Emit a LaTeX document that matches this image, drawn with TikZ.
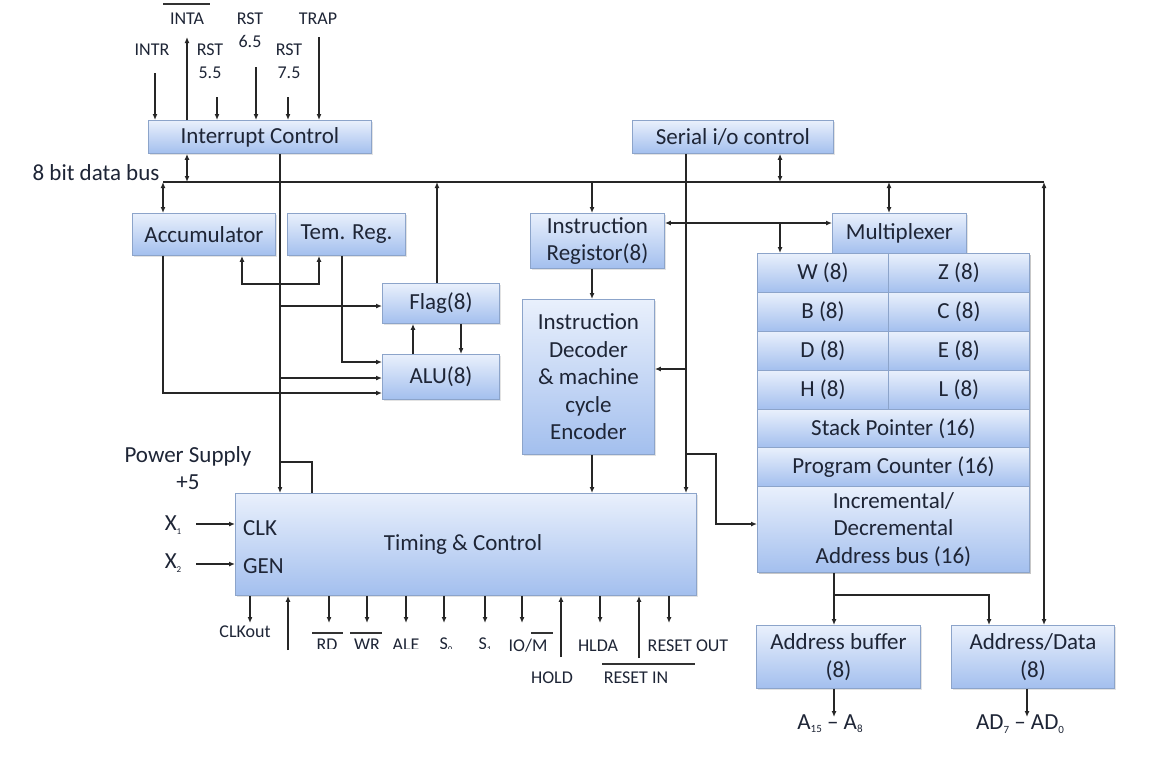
\documentclass[tikz,border=0pt]{standalone}
\usepackage{fontspec}
\setmainfont{Carlito}
\usetikzlibrary{arrows.meta,shadows,calc}
\definecolor{boxtop}{HTML}{E9F0FC}
\definecolor{boxbot}{HTML}{A3BFEE}
\definecolor{boxline}{HTML}{8CA4CA}
\definecolor{txt}{HTML}{1E2536}
\newcommand\bxf{\fontsize{23}{27.5}\selectfont}
\newcommand\lbf{\fontsize{18}{23}\selectfont}
\newcommand\mysub[1]{\raisebox{-0.3ex}{\fontsize{9}{9}\selectfont #1}}
\newcommand\mysubb[1]{\raisebox{-0.3ex}{\fontsize{11}{11}\selectfont #1}}
\begin{document}
\begin{tikzpicture}[x=1pt,y=-1pt,
  blk/.style={draw=boxline, line width=0.9pt, top color=boxtop, bottom color=boxbot,
    drop shadow={shadow xshift=1.5pt,shadow yshift=-1.5pt,opacity=0.22},
    align=center, inner sep=0pt, font=\bxf, text=txt, anchor=north west},
  cell/.style={draw=boxline, line width=0.9pt, top color=boxtop, bottom color=boxbot,
    align=center, inner sep=0pt, font=\bxf, text=txt, anchor=north west},
  lbl/.style={font=\lbf, text=txt, inner sep=0pt, align=center},
  big/.style={font=\bxf, text=txt, inner sep=0pt, align=center},
  wire/.style={line width=1.5pt, draw=black!85},
  ovl/.style={line width=1.1pt, draw=black!80},
  >={Latex[length=6pt,width=5pt]}]
\useasboundingbox (0,0) rectangle (1168,764);
\fill[white] (0,0) rectangle (1168,764);

% ---------- boxes ----------
\node[blk, minimum width=223pt, minimum height=33pt] (ic) at (148,120) {Interrupt Control};
\node[blk, minimum width=201pt, minimum height=33pt] (sio) at (632,120) {Serial i/o control};
\node[blk, minimum width=143pt, minimum height=42pt] (acc) at (132,213) {Accumulator};
\node[blk, minimum width=118pt, minimum height=42pt] (tmp) at (287,213) {Tem. Reg.};
\node[blk, minimum width=117pt, minimum height=40pt] (flg) at (382,283) {Flag(8)};
\node[blk, minimum width=117pt, minimum height=45pt] (alu) at (382,354) {ALU(8)};
\node[blk, minimum width=134pt, minimum height=55pt] (ir) at (530,213) {Instruction\\Registor(8)};
\node[blk, minimum width=132pt, minimum height=155pt] (dec) at (522,299) {Instruction\\Decoder\\\& machine\\cycle\\Encoder};
\node[blk, minimum width=134pt, minimum height=40pt] (mux) at (832,213) {Multiplexer};

\fill[black,opacity=0.22] (758.5,254.5) rectangle (1030.5,573.5);
\node[cell, minimum width=131pt, minimum height=39pt] (w) at (757,253) {W (8)};
\node[cell, minimum width=141pt, minimum height=39pt] (z) at (888,253) {Z (8)};
\node[cell, minimum width=131pt, minimum height=39pt] (b) at (757,292) {B (8)};
\node[cell, minimum width=141pt, minimum height=39pt] (c) at (888,292) {C (8)};
\node[cell, minimum width=131pt, minimum height=39pt] (d) at (757,331) {D (8)};
\node[cell, minimum width=141pt, minimum height=39pt] (e) at (888,331) {E (8)};
\node[cell, minimum width=131pt, minimum height=39pt] (h) at (757,370) {H (8)};
\node[cell, minimum width=141pt, minimum height=39pt] (l) at (888,370) {L (8)};
\node[cell, minimum width=272pt, minimum height=38pt] (sp) at (757,409) {Stack Pointer (16)};
\node[cell, minimum width=272pt, minimum height=39pt] (pc) at (757,447) {Program Counter (16)};
\node[cell, minimum width=272pt, minimum height=86pt] (inc) at (757,486) {Incremental/\\Decremental\\Address bus (16)};

\node[blk, minimum width=461pt, minimum height=102pt] (tc) at (235,493) {};
\node[big] (tctext) at (463,544) {Timing \& Control};
\node[big, anchor=west] (clk) at (243,528) {CLK};
\node[big, anchor=west] (gen) at (243,566) {GEN};

\node[blk, minimum width=164pt, minimum height=63pt] (ab) at (756,625) {Address buffer\\(8)};
\node[blk, minimum width=163pt, minimum height=63pt] (ad) at (951,625) {Address/Data\\(8)};

% ---------- labels ----------
\node[lbl] (intr) at (152,50) {INTR};
\node[lbl] (inta) at (187,19) {INTA};
\draw[ovl] (163,4) -- (210,4);
\node[lbl] (rst55) at (210,61) {RST\\5.5};
\node[lbl] (rst65) at (250,30.5) {RST\\6.5};
\node[lbl] (rst75) at (289,61.5) {RST\\7.5};
\node[lbl] (trap) at (318,19) {TRAP};
\node[big] (busl) at (96,173) {8 bit data bus};
\node[big] (pwr) at (188,468) {Power Supply\\+5};
\node[big] (x1) at (173,525) {X\mysub{1}};
\node[big] (x2) at (173,563) {X\mysub{2}};

\node[lbl] (clkout) at (245,632) {CLKout};
\begin{scope}
\clip (295,600) rectangle (505,648);
\node[lbl] (rd) at (327,645) {RD};
\node[lbl] (wr) at (367,645) {WR};
\node[lbl] (ale) at (406,645) {ALE};
\node[lbl] (s0) at (446,645) {S\mysub{0}};
\node[lbl] (s1) at (485,645) {S\mysub{1}};
\end{scope}
\draw[ovl] (312,633) -- (343,633);
\draw[ovl] (350,633) -- (382,633);
\node[lbl] (iom) at (528,646) {IO/M};
\draw[ovl] (531,633) -- (553,633);
\node[lbl] (hlda) at (598,646) {HLDA};
\node[lbl] (rout) at (688,646) {RESET OUT};
\node[lbl] (hold) at (552,678) {HOLD};
\node[lbl] (rin) at (636,678) {RESET IN};
\draw[ovl] (602,664) -- (695,664);
\node[big] (a15) at (830,724) {A\mysubb{15} -- A\mysubb{8}};
\node[big] (ad7) at (1020,724) {AD\mysubb{7} -- AD\mysubb{0}};

% ---------- wires ----------
\coordinate (busL) at (163,182);
\coordinate (busR) at (1044,182);
\draw[wire] (busL) -- (busR);
\draw[wire,<->] (187,0 |- ic.south) -- (187,182);
\draw[wire,<->] (busL) -- (163,0 |- acc.north);

\draw[wire,->] (155,73) -- (155,0 |- ic.north);
\draw[wire,->] (187,0 |- ic.north) -- (187,37);
\draw[wire,->] (217,97) -- (217,0 |- ic.north);
\draw[wire,->] (256,67) -- (256,0 |- ic.north);
\draw[wire,->] (288,97) -- (288,0 |- ic.north);
\draw[wire,->] (319,37) -- (319,0 |- ic.north);

\draw[wire,->] (280,0 |- ic.south) -- (280,0 |- tc.north);
\draw[wire,->] (280,306) -- (flg.west |- 0,306);
\draw[wire,->] (280,378) -- (alu.west |- 0,378);
\draw[wire] (280,462) -- (312,462) -- (312,0 |- tc.north);

\draw[wire,<->] (242,0 |- acc.south) -- (242,284) -- (319,284) -- (319,0 |- tmp.south);
\draw[wire,->] (163,0 |- acc.south) -- (163,393) -- (alu.west |- 0,393);
\draw[wire,->] (342,0 |- tmp.south) -- (342,362) -- (alu.west |- 0,362);
\draw[wire,->] (437,0 |- flg.north) -- (437,182);
\draw[wire,->] (413,0 |- alu.north) -- (413,0 |- flg.south);
\draw[wire,->] (461,0 |- flg.south) -- (461,0 |- alu.north);

\draw[wire,<->] (780,0 |- sio.south) -- (780,182);
\draw[wire,->] (686,0 |- sio.south) -- (686,0 |- tc.north);
\draw[wire,->] (686,369) -- (dec.east |- 0,369);
\draw[wire,->] (686,454) -- (716,454) -- (716,524) -- (inc.west |- 0,524);

\draw[wire,->] (592,182) -- (592,0 |- ir.north);
\draw[wire,<->] (889,182) -- (889,0 |- mux.north);
\draw[wire,<->] (ir.east |- 0,223) -- (mux.west |- 0,223);
\draw[wire,->] (780,223) -- (780,0 |- w.north);
\draw[wire,->] (592,0 |- ir.south) -- (592,0 |- dec.north);
\draw[wire,->] (592,0 |- dec.south) -- (592,0 |- tc.north);

\draw[wire,->] (196,524) -- (tc.west |- 0,524);
\draw[wire,->] (196,564) -- (tc.west |- 0,564);

\foreach \xx in {250,329,367,406,444,485,522,600,669}
  \draw[wire,->] (\xx,0 |- tc.south) -- (\xx,623);
\draw[wire,->] (288,650) -- (288,0 |- tc.south);
\draw[wire,->] (561,657) -- (561,0 |- tc.south);
\draw[wire,->] (639,658) -- (639,0 |- tc.south);

\draw[wire,->] (834,0 |- inc.south) -- (834,0 |- ab.north);
\draw[wire,->] (834,595) -- (989,595) -- (989,0 |- ad.north);
\draw[wire,<->] (1044,0 |- ad.north) -- (busR);
\draw[wire,->] (834,0 |- ab.south) -- (834,717);
\draw[wire,->] (1027,0 |- ad.south) -- (1027,717);
\end{tikzpicture}
\end{document}
